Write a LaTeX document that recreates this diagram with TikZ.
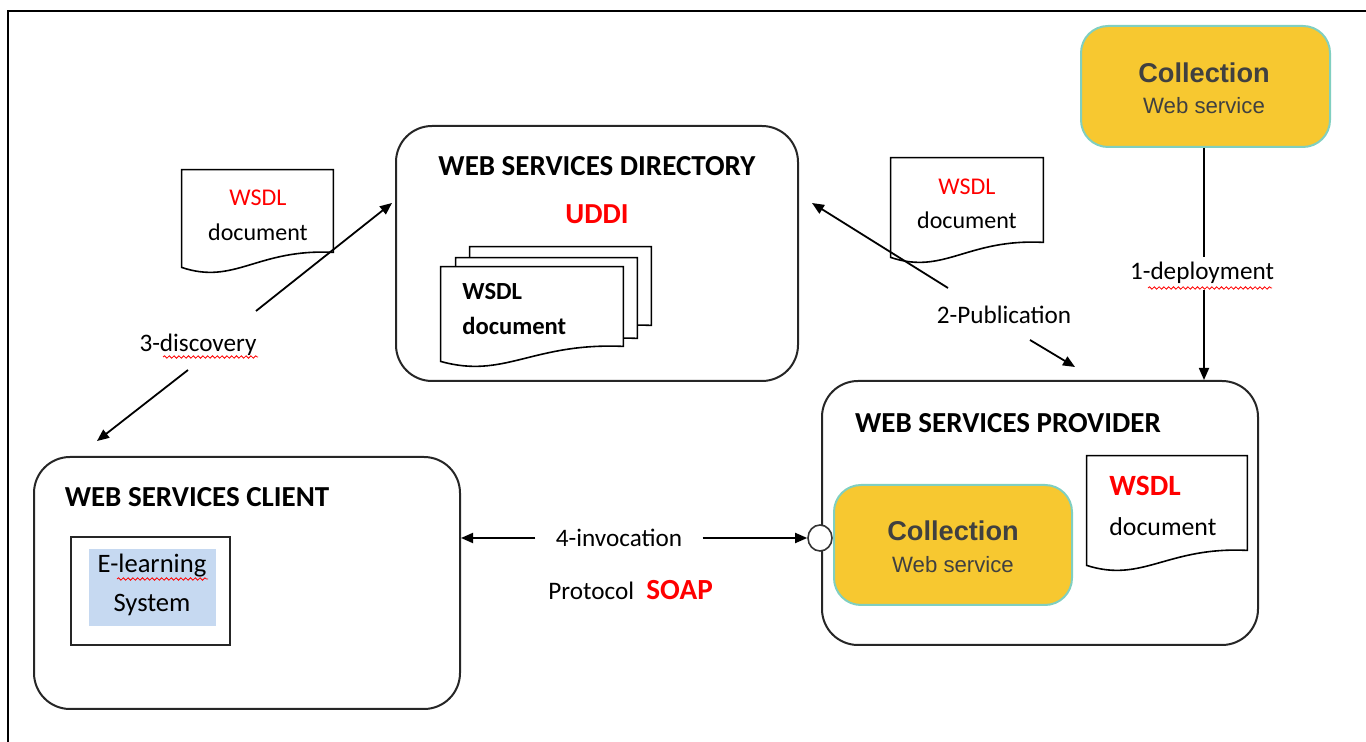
\documentclass[tikz,border=0pt]{standalone}
\usepackage{fontspec}
\setmainfont{Carlito}
\newfontfamily\arialfont{Liberation Sans}
\usetikzlibrary{arrows.meta,calc,decorations.pathmorphing,shapes.geometric}

\definecolor{colyellow}{HTML}{F7C830}
\definecolor{colteal}{HTML}{80CFC0}
\definecolor{coltext}{HTML}{404040}
\definecolor{sysblue}{HTML}{C6D9F1}
\definecolor{wsdlred}{HTML}{FF0000}

% document symbol: straight top and sides, wavy bottom edge
\newcommand\docoutline[1]{%
  \draw[docline] (#1.north west) -- (#1.north east) -- ($(#1.south east)+(0,-8)$)
    .. controls ($(#1.south east)!0.5!(#1.south west)+(0,-12)$)
       and ($(#1.south west)!0.35!(#1.south east)+(0,25)$) ..
    ($(#1.south west)+(0,7)$) -- cycle;}

\tikzset{
  bigbox/.style={draw=black!85, line width=1pt, rounded corners=18pt, inner sep=0pt},
  colbox/.style={draw=colteal, fill=colyellow, line width=1pt, rounded corners=13.5pt, inner sep=0pt},
  docnode/.style={inner sep=0pt},
  docline/.style={draw=black, fill=white, line width=0.8pt},
  conn/.style={line width=0.9pt},
  arr/.style={line width=0.9pt, -{Triangle[length=6pt,width=5pt]}},
  squiggle/.style={draw=wsdlred, line width=0.4pt, decorate,
    decoration={snake, amplitude=0.6pt, segment length=2.4pt}},
  boxtitle/.style={font=\bfseries\fontsize{14.5}{17}\selectfont},
  lbl/.style={font=\fontsize{12.6}{15}\selectfont},
  doctext/.style={font=\fontsize{12}{14}\selectfont},
  coltitle/.style={font=\arialfont\bfseries\fontsize{13.6}{16}\selectfont, text=coltext},
  colsub/.style={font=\arialfont\fontsize{11.1}{13}\selectfont, text=coltext},
}

\begin{document}
\begin{tikzpicture}[x=0.5pt,y=-0.5pt]
\useasboundingbox (0,0) rectangle (1366,742);

% outer frame (top and left edges)
\draw[line width=1.2pt] (8,742) -- (8,11) -- (1366,11);

% main boxes
\node[bigbox, minimum width=201pt, minimum height=127.5pt] (dir) at (597,253.5) {};
\node[bigbox, minimum width=218pt, minimum height=132pt] (prov) at (1040,513) {};
\node[bigbox, minimum width=213pt, minimum height=126pt] (client) at (247,583) {};

\node[boxtitle] (dirtitle) at (597,166) {WEB SERVICES DIRECTORY};
\node[boxtitle, text=wsdlred] (uddi) at (597,214) {UDDI};
\node[boxtitle] (provtitle) at (1008,423) {WEB SERVICES PROVIDER};
\node[boxtitle] (clienttitle) at (197,497) {WEB SERVICES CLIENT};

% stacked WSDL documents in the directory
\node[docnode, minimum width=90.5pt, minimum height=43pt] (stackA) at (560.5,290) {};
\docoutline{stackA}
\node[docnode, minimum width=90.5pt, minimum height=44pt] (stackB) at (546.5,302) {};
\docoutline{stackB}
\node[docnode, minimum width=91pt, minimum height=43.5pt] (stackC) at (532,310.5) {};
\docoutline{stackC}
\node[anchor=west, inner sep=0pt, font=\bfseries\fontsize{12.3}{14}\selectfont] (stackwsdl) at (462,292) {WSDL};
\node[anchor=west, inner sep=0pt, font=\bfseries\fontsize{12.3}{14}\selectfont] (stackdoc) at (462,326) {document};

% free-standing WSDL documents
\node[docnode, minimum width=75.5pt, minimum height=45pt] (docL) at (257.5,215) {};
\docoutline{docL}
\node[doctext, text=wsdlred] (docLw) at (258,198) {WSDL};
\node[doctext] (docLd) at (258,232) {document};

\node[docnode, minimum width=76pt, minimum height=46pt] (docR) at (967,204) {};
\docoutline{docR}
\node[doctext, text=wsdlred] (docRw) at (967,187) {WSDL};
\node[doctext] (docRd) at (967,220) {document};

\node[docnode, minimum width=80pt, minimum height=51pt] (docP) at (1167,507) {};
\docoutline{docP}
\node[anchor=west, inner sep=0pt, text=wsdlred, font=\bfseries\fontsize{14.7}{17}\selectfont] (docPw) at (1109,486) {WSDL};
\node[anchor=west, inner sep=0pt, font=\fontsize{12.9}{15}\selectfont] (docPd) at (1109,527) {document};

% collection web services
\node[colbox, minimum width=124.5pt, minimum height=60.5pt] (coltop) at (1205.5,86.5) {};
\node[coltitle] (coltopA) at (1204,73) {Collection};
\node[colsub] (coltopB) at (1204,106) {Web service};

\node[colbox, minimum width=119pt, minimum height=60pt] (colin) at (953,545) {};
\node[coltitle] (colinA) at (953,531) {Collection};
\node[colsub] (colinB) at (953,565) {Web service};

% service interface port
\node[draw=black!80, fill=white, line width=0.8pt, ellipse, minimum width=12pt, minimum height=13pt, inner sep=0pt] (port) at (820,538) {};

% client application
\node[draw=black!85, line width=0.9pt, minimum width=79.5pt, minimum height=54pt, inner sep=0pt] (elo) at (150.5,591) {};
\node[fill=sysblue, minimum width=63.5pt, minimum height=38.5pt, inner sep=0pt] (eli) at (152.5,587.5) {};
\node[font=\fontsize{13.3}{15}\selectfont] (elA) at (152,566) {E-learning};
\node[font=\fontsize{13.3}{15}\selectfont] (elB) at (152,605) {System};
\draw[squiggle] (117,579) -- (208,579);

% 1 - deployment
\node[lbl] (dep) at (1202,273) {1-deployment};
\draw[squiggle] (1148,288) -- (1272,288);
\coordinate (depx) at (1204,0);
\coordinate (depA) at (1204,257);
\coordinate (depB) at (1204,290);
\draw[conn] (coltop.south -| depx) -- (depA);
\draw[arr] (depB) -- (depx |- prov.north);

% 2 - publication
\node[lbl] (pub) at (1004,315) {2-Publication};
\coordinate (pubU) at (812,203);
\coordinate (pubUa) at (948,288);
\coordinate (pubD) at (1075,367);
\coordinate (pubDa) at (1030,340);
\draw[arr] (pubUa) -- (pubU);
\draw[arr] (pubDa) -- (pubD);

% 3 - discovery
\node[lbl] (dis) at (198,345) {3-discovery};
\draw[squiggle] (163,357) -- (258,357);
\coordinate (disU) at (392,203);
\coordinate (disUa) at (256,311);
\coordinate (disD) at (97,441);
\coordinate (disDa) at (188,370);
\draw[arr] (disUa) -- (disU);
\draw[arr] (disDa) -- (disD);

% 4 - invocation over SOAP
\node[lbl, inner xsep=10pt] (inv) at (619,538) {4-invocation};
\draw[arr] (inv) -- (client.east |- inv);
\draw[arr] (inv) -- (port);
\node[lbl, anchor=base west, inner sep=0pt] (proto) at (548,599.5) {Protocol};
\node[anchor=base west, inner sep=0pt, text=wsdlred, font=\bfseries\fontsize{14.6}{17}\selectfont] (soap) at (646,599.5) {SOAP};
\end{tikzpicture}
\end{document}
